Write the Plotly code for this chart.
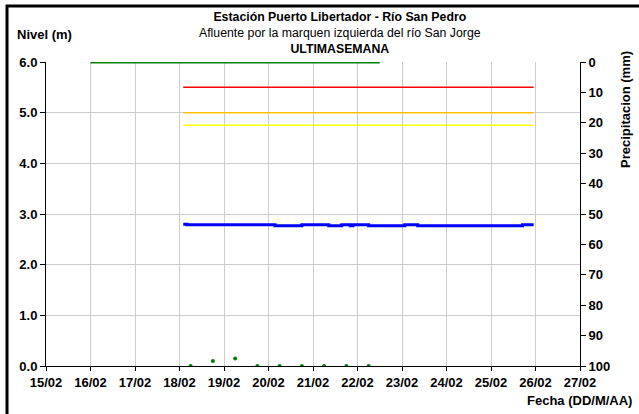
import plotly.graph_objects as go

# nivel del rio (m)
nivel_fechas = ["2024-02-18 02:00", "2024-02-18 04:00", "2024-02-20 03:30", "2024-02-20 18:00",
                "2024-02-21 08:30", "2024-02-21 15:30", "2024-02-21 20:00", "2024-02-21 21:30",
                "2024-02-22 06:00", "2024-02-23 01:30", "2024-02-23 08:30", "2024-02-25 17:00",
                "2024-02-25 23:00"]
nivel_valores = [2.80, 2.79, 2.77, 2.79, 2.77, 2.79, 2.77, 2.79, 2.77, 2.79, 2.77, 2.79, 2.79]

# umbrales de alerta
umbral_fechas = ["2024-02-18 02:00", "2024-02-25 23:00"]
umbral_rojo = [5.5, 5.5]
umbral_naranja = [5.0, 5.0]
umbral_amarillo = [4.75, 4.75]

# precipitacion (mm), eje derecho invertido
precip_fechas = ["2024-02-16 00:00", "2024-02-16 06:00", "2024-02-16 12:00", "2024-02-16 18:00",
                 "2024-02-17 00:00", "2024-02-17 06:00", "2024-02-17 12:00", "2024-02-17 18:00",
                 "2024-02-18 00:00", "2024-02-18 06:00", "2024-02-18 12:00", "2024-02-18 18:00",
                 "2024-02-19 00:00", "2024-02-19 06:00", "2024-02-19 12:00", "2024-02-19 18:00",
                 "2024-02-20 00:00", "2024-02-20 06:00", "2024-02-20 12:00", "2024-02-20 18:00",
                 "2024-02-21 00:00", "2024-02-21 06:00", "2024-02-21 12:00", "2024-02-21 18:00",
                 "2024-02-22 00:00", "2024-02-22 06:00", "2024-02-22 12:00"]
precip_valores = [0, 0, 0, 0, 0, 0, 0, 0, 0, 0, 0, 0, 0, 0, 0, 0, 0, 0, 0, 0, 0, 0, 0, 0, 0, 0, 0]

# puntos verdes cerca de cero
puntos_fechas = ["2024-02-18 06:00", "2024-02-18 18:00", "2024-02-19 06:00", "2024-02-19 18:00",
                 "2024-02-20 06:00", "2024-02-20 18:00", "2024-02-21 06:00", "2024-02-21 18:00",
                 "2024-02-22 06:00"]
puntos_valores = [0, 0.1, 0.15, 0, 0, 0, 0, 0, 0]

FONT = "Liberation Sans, Arial, sans-serif"
FS = 13

fig = go.Figure()
fig.add_trace(go.Scatter(x=umbral_fechas, y=umbral_rojo, mode="lines",
                         line=dict(color="#ff0000", width=1.5)))
fig.add_trace(go.Scatter(x=umbral_fechas, y=umbral_naranja, mode="lines",
                         line=dict(color="#ffc000", width=1.5)))
fig.add_trace(go.Scatter(x=umbral_fechas, y=umbral_amarillo, mode="lines",
                         line=dict(color="#ffff00", width=1.5)))
fig.add_trace(go.Scatter(x=nivel_fechas, y=nivel_valores, mode="lines", line_shape="hv",
                         line=dict(color="#0000ff", width=3)))
fig.add_trace(go.Scatter(x=puntos_fechas, y=puntos_valores, mode="markers",
                         marker=dict(color="#008000", size=4)))
fig.add_trace(go.Scatter(x=precip_fechas, y=precip_valores, mode="lines", yaxis="y2",
                         line=dict(color="#008000", width=3), cliponaxis=False))

bold = dict(family=FONT, size=FS, color="black", weight="bold")

fig.update_layout(
    width=639, height=414,
    margin=dict(l=46, r=59, t=62, b=48),
    paper_bgcolor="white", plot_bgcolor="white",
    showlegend=False,
    font=dict(family=FONT, size=FS, color="black"),
    xaxis=dict(type="date", range=["2024-02-15", "2024-02-27"], dtick=86400000,
               tickformat="%d/%m", tickfont=bold, showgrid=True, gridcolor="#cccccc",
               gridwidth=1, showline=True, linecolor="black", linewidth=1,
               ticks="outside", ticklen=4, tickcolor="black", zeroline=False),
    yaxis=dict(range=[0, 6], dtick=1, tickformat=".1f", tickfont=bold,
               showgrid=True, gridcolor="#cccccc", gridwidth=1, showline=True,
               linecolor="black", linewidth=1, ticks="outside", ticklen=5,
               tickcolor="black", zeroline=False),
    yaxis2=dict(range=[100, 0], dtick=10, overlaying="y", side="right", tickfont=bold,
                showgrid=False, showline=True, linecolor="black", linewidth=1,
                ticks="outside", ticklen=5, tickcolor="black", zeroline=False),
)

titulo = ("<b>Estación Puerto Libertador - Río San Pedro</b><br>"
          "Afluente por la marquen izquierda del río San Jorge<br>"
          "<b>ULTIMASEMANA</b>")
fig.add_annotation(text=titulo, xref="paper", yref="paper", x=0.55, y=1.094,
                   xanchor="center", yanchor="middle", showarrow=False, align="center",
                   font=dict(family=FONT, size=12.3, color="black"))

fig.add_annotation(text="<b>Nivel (m)</b>", xref="paper", yref="paper", x=-0.058, y=1.092,
                   xanchor="left", yanchor="middle", showarrow=False,
                   font=dict(family=FONT, size=FS, color="black"))
fig.add_annotation(text="<b>Precipitacion (mm)</b>", xref="paper", yref="paper", x=1.084, y=0.845,
                   xanchor="center", yanchor="middle", textangle=-90, showarrow=False,
                   font=dict(family=FONT, size=FS, color="black"))
fig.add_annotation(text="<b>Fecha (DD/M/AA)</b>", xref="paper", yref="paper", x=1.101, y=-0.112,
                   xanchor="right", yanchor="middle", showarrow=False,
                   font=dict(family=FONT, size=FS, color="black"))

# marco negro
fig.add_shape(type="rect", xref="paper", yref="paper", x0=-0.073, x1=1.2, y0=-0.2, y1=1.184,
              line=dict(color="black", width=3), layer="above")

fig.write_html("out.html", config={"displayModeBar": False},
               post_script="document.body.style.margin='0';")
